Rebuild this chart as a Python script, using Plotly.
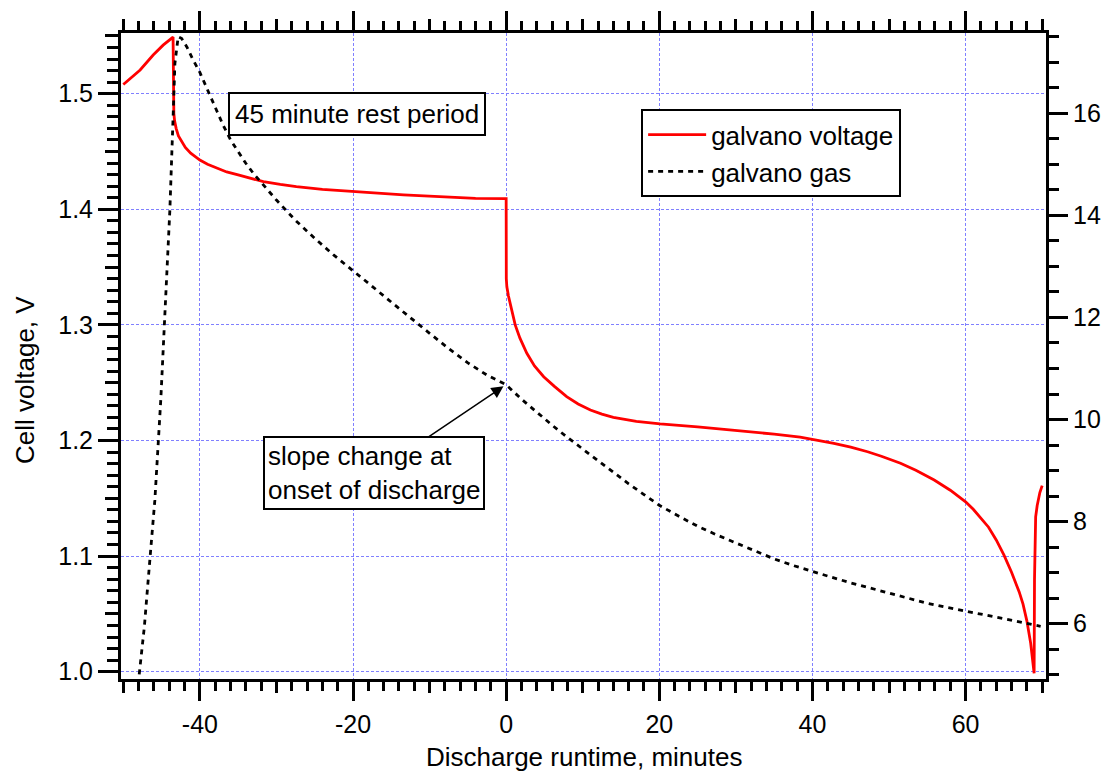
import plotly.graph_objects as go

# ---------------- data ----------------
volt_x = [-50.0, -48.9, -47.8, -46.1, -44.8, -43.5,
          -43.45, -43.4, -43.3, -43.1, -42.8, -42.4, -41.9, -41.2, -40.0, -39.0, -37.8, -36.5,
          -35.0, -33.5, -31.7, -29.5, -27.4, -24.0, -20.0, -13.4, -4.0, 0.0,
          0.02, 0.09, 0.3, 0.6, 1.18, 1.8, 2.7, 3.7, 4.9, 6.3, 7.9, 9.4, 11.0, 12.5,
          14.0, 17.0, 20.1, 25.0, 29.7, 35.0, 38.4, 40.2, 42.8, 45.0, 47.2, 49.0, 51.5, 53.5,
          55.9, 58.0, 60.0, 61.0, 62.0, 63.0, 64.0, 65.0, 66.0, 67.0, 67.5, 68.0, 68.5, 68.8,
          68.95, 69.0, 69.05, 69.15, 69.35, 69.7, 70.0]
volt_y = [1.508, 1.514, 1.5205, 1.5335, 1.542, 1.549,
          1.490, 1.483, 1.4765, 1.4700, 1.4635, 1.4585, 1.4535, 1.4485, 1.4426, 1.4390, 1.4355, 1.4323,
          1.4297, 1.4270, 1.4239, 1.4215, 1.4196, 1.4172, 1.4152, 1.4124, 1.4095, 1.4093,
          1.340, 1.333, 1.325, 1.316, 1.300, 1.2885, 1.2754, 1.2645, 1.2552, 1.2468, 1.2379, 1.2316, 1.2264, 1.2228,
          1.2201, 1.2166, 1.2143, 1.2118, 1.2091, 1.2055, 1.2029, 1.2010, 1.1976, 1.1942, 1.1903, 1.1864, 1.1803, 1.1742,
          1.1658, 1.1570, 1.1470, 1.1405, 1.1332, 1.1250, 1.1140, 1.1010, 1.0860, 1.0690, 1.0585, 1.0440, 1.0245, 1.0090,
          0.9986, 1.080, 1.120, 1.134, 1.1437, 1.155, 1.161]

gas_x = [-48.2, -47.9, -47.25, -46.5, -45.88, -45.1, -44.35, -43.92, -43.48, -43.26, -42.83, -42.4, -41.7,
         -41.0, -40.0, -39.0, -38.0, -37.0, -36.0, -35.0, -34.0, -33.0, -32.0, -30.0, -27.5, -25.0,
         -22.5, -20.0, -17.5, -15.0, -12.5, -10.0, -7.5, -5.0, -2.5, 0.0,
         2.0, 4.0, 6.0, 8.0, 10.0, 12.0, 14.0, 16.0, 18.0, 20.0, 22.5, 25.0, 27.5, 30.0, 32.5,
         35.0, 37.5, 40.0, 42.5, 45.0, 47.5, 50.0, 52.5, 55.0, 57.5, 60.0, 62.5, 65.0, 67.5, 69.8]
gas_y = [4.62, 5.06, 5.94, 7.31, 8.42, 10.40, 12.83, 14.10, 16.00, 16.98, 17.50, 17.47, 17.30,
         17.08, 16.80, 16.46, 16.12, 15.78, 15.48, 15.24, 15.02, 14.82, 14.64, 14.30, 13.90, 13.55,
         13.22, 12.92, 12.61, 12.30, 11.99, 11.69, 11.39, 11.11, 10.87, 10.68,
         10.40, 10.14, 9.89, 9.65, 9.42, 9.19, 8.96, 8.74, 8.53, 8.32, 8.11, 7.91, 7.74, 7.58, 7.42,
         7.27, 7.14, 7.02, 6.91, 6.80, 6.70, 6.59, 6.49, 6.40, 6.32, 6.25, 6.18, 6.10, 6.02, 5.95]

x_tickvals = [-40, -20, 0, 20, 40, 60]
x_ticktext = ["-40", "-20", "0", "20", "40", "60"]
yl_tickvals = [1.0, 1.1, 1.2, 1.3, 1.4, 1.5]
yl_ticktext = ["1.0", "1.1", "1.2", "1.3", "1.4", "1.5"]
yr_tickvals = [6, 8, 10, 12, 14, 16]
yr_ticktext = ["6", "8", "10", "12", "14", "16"]

X_RANGE = [-50.3, 70.5]
YL_RANGE = [0.9937, 1.5525]
YR_RANGE = [4.917, 17.573]

FONT = "Liberation Sans, Arial, sans-serif"
GRID = "#8080ff"

fig = go.Figure()
fig.add_trace(go.Scatter(x=volt_x, y=volt_y, mode="lines", name="galvano voltage",
                         line=dict(color="#ff0000", width=2.8), xaxis="x", yaxis="y"))
fig.add_trace(go.Scatter(x=gas_x, y=gas_y, mode="lines", name="galvano gas",
                         line=dict(color="#000000", width=2.8, dash="5px,5px"),
                         xaxis="x", yaxis="y2"))
# dummy trace for overlay (medium tick) axes
fig.add_trace(go.Scatter(x=[None], y=[None], xaxis="x3", yaxis="y3", showlegend=False,
                         hoverinfo="skip"))

tickfont = dict(family=FONT, size=25, color="black")

fig.update_layout(
    template="none",
    width=1108, height=773,
    paper_bgcolor="white", plot_bgcolor="white",
    margin=dict(l=121, r=62, t=33, b=94, autoexpand=False),
    font=dict(family=FONT, size=26, color="black"),
    xaxis=dict(
        range=X_RANGE, autorange=False, automargin=False,
        tickmode="array", tickvals=x_tickvals, ticktext=x_ticktext,
        ticks="outside", ticklen=19, tickwidth=2.5, tickcolor="black",
        showline=True, linewidth=3, linecolor="black", mirror="ticks",
        showgrid=True, gridcolor=GRID, gridwidth=1, griddash="3px,2px",
        zeroline=False, tickfont=tickfont, ticklabelstandoff=2,
        minor=dict(tickmode="linear", tick0=0, dtick=2, ticks="outside", ticklen=9,
                   tickwidth=2.5, tickcolor="black", showgrid=False),
    ),
    yaxis=dict(
        range=YL_RANGE, autorange=False, automargin=False,
        tickmode="array", tickvals=yl_tickvals, ticktext=yl_ticktext,
        ticks="outside", ticklen=20, tickwidth=2.5, tickcolor="black",
        showline=True, linewidth=3, linecolor="black",
        showgrid=True, gridcolor=GRID, gridwidth=1, griddash="3px,2px",
        zeroline=False, tickfont=tickfont,
        minor=dict(tickmode="linear", tick0=1.0, dtick=0.01, ticks="outside", ticklen=11,
                   tickwidth=2.5, tickcolor="black", showgrid=False),
    ),
    yaxis2=dict(
        range=YR_RANGE, autorange=False, automargin=False,
        overlaying="y", side="right", anchor="x",
        tickmode="array", tickvals=yr_tickvals, ticktext=yr_ticktext,
        ticks="outside", ticklen=19, tickwidth=2.5, tickcolor="black",
        showline=True, linewidth=3, linecolor="black",
        showgrid=False, zeroline=False, tickfont=tickfont,
        minor=dict(tickmode="linear", tick0=0, dtick=0.5, ticks="outside", ticklen=10,
                   tickwidth=2.5, tickcolor="black", showgrid=False),
    ),
    xaxis3=dict(
        range=X_RANGE, autorange=False, automargin=False,
        overlaying="x", anchor="y", side="bottom",
        tickmode="linear", tick0=0, dtick=10, ticks="outside", ticklen=13,
        tickwidth=2.5, tickcolor="black", showticklabels=False, mirror="ticks",
        showline=False, showgrid=False, zeroline=False,
    ),
    yaxis3=dict(
        range=YL_RANGE, autorange=False, automargin=False,
        overlaying="y", anchor="x", side="left",
        tickmode="linear", tick0=1.0, dtick=0.05, ticks="outside", ticklen=15,
        tickwidth=2.5, tickcolor="black", showticklabels=False,
        showline=False, showgrid=False, zeroline=False,
    ),
    legend=dict(
        x=0.5623, y=0.882, xanchor="left", yanchor="top",
        bgcolor="white", bordercolor="black", borderwidth=2,
        font=dict(family=FONT, size=26, color="black"),
        itemwidth=58, tracegroupgap=0,
    ),
    showlegend=True,
)

# axis titles
fig.add_annotation(
    text="Discharge runtime, minutes", xref="paper", yref="paper",
    x=0.5, y=-0.1215, xanchor="center", yanchor="middle", showarrow=False,
    font=dict(family=FONT, size=26, color="black"),
)
fig.add_annotation(
    text="Cell voltage, V", xref="paper", yref="paper", textangle=-90,
    x=-0.1038, y=0.4628, xanchor="center", yanchor="middle", showarrow=False,
    font=dict(family=FONT, size=26, color="black"),
)

fig.add_annotation(
    text="45 minute rest period", x=-19.53, y=1.4824, xref="x", yref="y",
    showarrow=False, bgcolor="white", bordercolor="black", borderwidth=2, borderpad=5,
    font=dict(family=FONT, size=26, color="black"),
)
fig.add_annotation(
    text="slope change at<br>onset of discharge", align="left",
    x=-0.35, y=10.65, xref="x", yref="y2",
    ax=-129, ay=87, axref="pixel", ayref="pixel",
    showarrow=True, arrowhead=2, arrowsize=1.6, arrowwidth=1.5, arrowcolor="black",
    bgcolor="white", bordercolor="black", borderwidth=2, borderpad=3,
    font=dict(family=FONT, size=26, color="black"),
)

fig.write_html("out.html")
